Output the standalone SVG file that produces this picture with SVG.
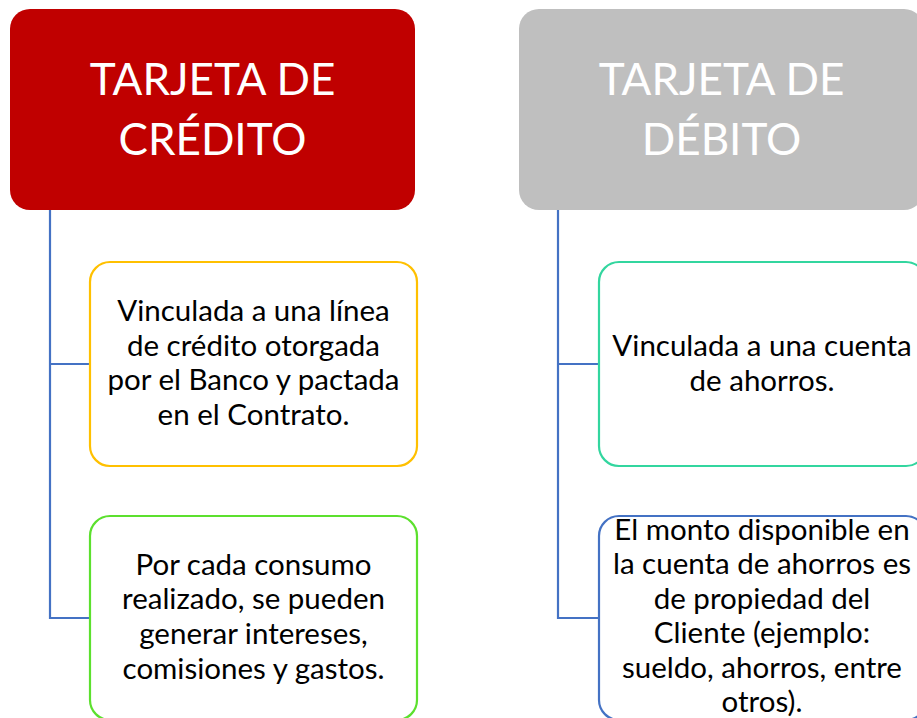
<svg xmlns="http://www.w3.org/2000/svg" width="917" height="718" viewBox="0 0 917 718">
<style>
.title{font-family:Lato,"Open Sans",sans-serif;font-size:44px;font-weight:400;fill:#ffffff;text-anchor:middle}
.body{font-family:Lato,"Open Sans",sans-serif;font-size:29.5px;fill:#000000;text-anchor:middle}
.box{fill:#ffffff;stroke-width:2.2}
.conn{fill:none;stroke:#4472C4;stroke-width:2.2}
</style>
<rect width="917" height="718" fill="#ffffff"/>
<g id="connectors">
<path class="conn" d="M50,210 V618 H90 M50,364 H90"/>
<path class="conn" d="M558,210 V618 H599 M558,364 H599"/>
</g>
<g id="credito">
<rect x="10" y="9" width="405" height="201" rx="20" fill="#C00000"/>
<text class="title" x="212.5" y="95">TARJETA DE</text>
<text class="title" x="212.5" y="155">CRÉDITO</text>
</g>
<g id="debito">
<rect x="519" y="9" width="405" height="201" rx="20" fill="#BFBFBF"/>
<text class="title" x="721.5" y="95">TARJETA DE</text>
<text class="title" x="721.5" y="155">DÉBITO</text>
</g>
<g id="credito-linea">
<rect class="box" x="90" y="262" width="327" height="204" rx="20" stroke="#FFC000"/>
<text class="body" x="253.5" y="321">Vinculada a una línea</text>
<text class="body" x="253.5" y="356">de crédito otorgada</text>
<text class="body" x="253.5" y="390">por el Banco y pactada</text>
<text class="body" x="253.5" y="425">en el Contrato.</text>
</g>
<g id="credito-consumo">
<rect class="box" x="90" y="516" width="327" height="204" rx="20" stroke="#5CE02E"/>
<text class="body" x="253.5" y="575">Por cada consumo</text>
<text class="body" x="253.5" y="609">realizado, se pueden</text>
<text class="body" x="253.5" y="644">generar intereses,</text>
<text class="body" x="253.5" y="679">comisiones y gastos.</text>
</g>
<g id="debito-cuenta">
<rect class="box" x="599" y="262" width="327" height="204" rx="20" stroke="#33D69F"/>
<text class="body" x="762" y="356">Vinculada a una cuenta</text>
<text class="body" x="762" y="391">de ahorros.</text>
</g>
<g id="debito-monto">
<rect class="box" x="599" y="516" width="327" height="204" rx="20" stroke="#4472C4"/>
<text class="body" x="762" y="540">El monto disponible en</text>
<text class="body" x="762" y="574">la cuenta de ahorros es</text>
<text class="body" x="762" y="609">de propiedad del</text>
<text class="body" x="762" y="643">Cliente (ejemplo:</text>
<text class="body" x="762" y="678">sueldo, ahorros, entre</text>
<text class="body" x="762" y="712">otros).</text>
</g>
</svg>
